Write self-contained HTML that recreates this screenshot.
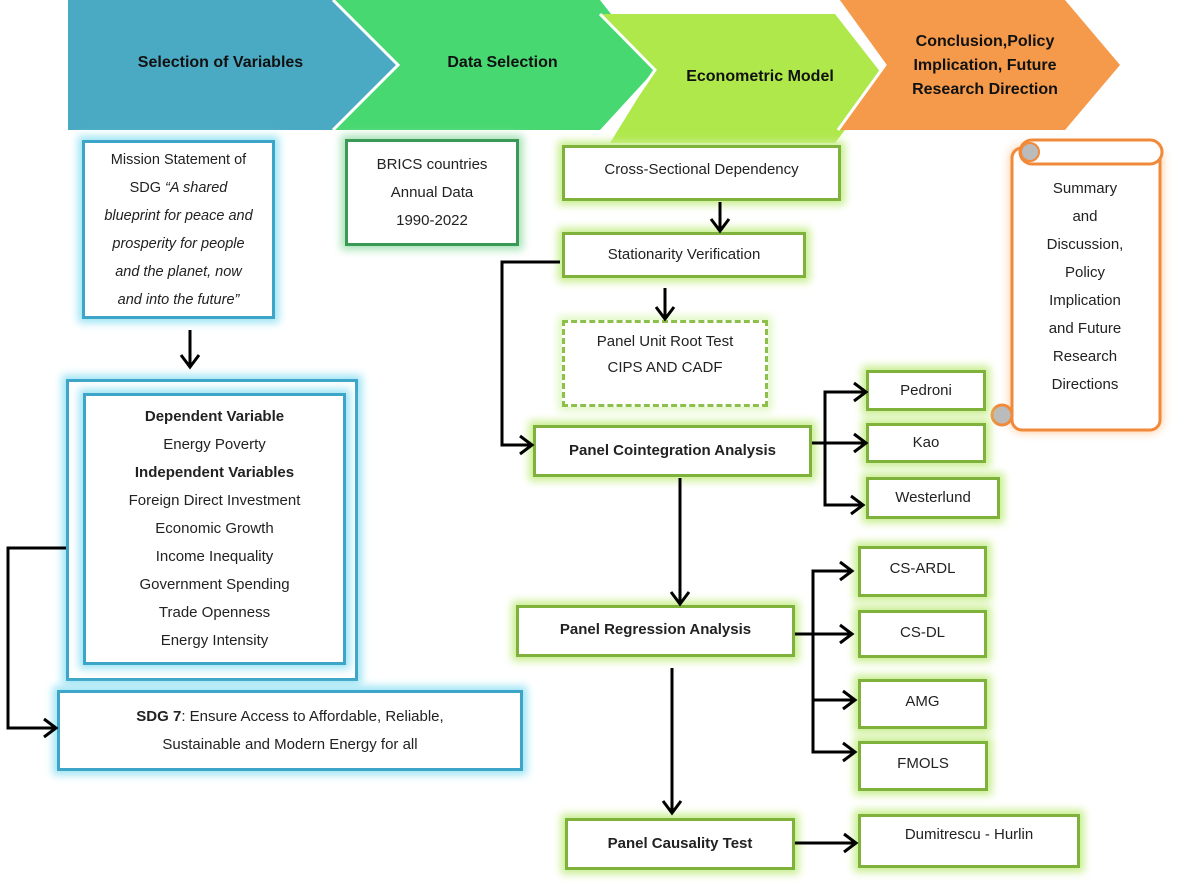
<!DOCTYPE html>
<html><head><meta charset="utf-8"><style>
body{margin:0;width:1200px;height:892px;background:#fff;position:relative;overflow:hidden;font-family:"Liberation Sans",sans-serif;color:#222}
.b{position:absolute;box-sizing:border-box;background:#fff;display:flex;align-items:center;justify-content:center;text-align:center;font-size:15px;line-height:28px}
.g{border:3px solid #7fb23a;box-shadow:0 0 8px 4px #c8ee8e}
.bl{border:3px solid #3da5c8;box-shadow:0 0 8px 4px #9ee4f5}
.dg{border:3px solid #3a9a55;box-shadow:0 0 8px 4px #a9e3b8}
.t{position:absolute;font-weight:bold;font-size:16px;text-align:center;color:#111}
svg{position:absolute;left:0;top:0}
</style></head><body>
<svg width="1200" height="892">
<polygon points="68,0 333,0 398,65 333,130 68,130" fill="#4aaac3"/>
<polygon points="335,0 600,0 655,70 600,130 335,130 398,65" fill="#48d872"/>
<polygon points="610,14 835,14 885,78 835,143 610,143 655,70 600,14" fill="#aee84a"/>
<polygon points="838,0 1065,0 1120,65 1065,130 838,130 885,65" fill="#f59a4a"/>
<polyline points="838,0 885,65 838,130" fill="none" stroke="#fff" stroke-width="3"/>
<polyline points="333,0 398,65 333,130" fill="none" stroke="#fff" stroke-width="3"/>
<polyline points="600,14 655,70 605,143" fill="none" stroke="#fff" stroke-width="3"/>
<g>
<rect x="1012" y="148" width="148" height="282" rx="10" fill="#fff" stroke="#f08a3a" stroke-width="3" style="filter:drop-shadow(0 0 5px #ffc48f)"/>
<rect x="1020" y="140" width="142" height="24" rx="12" fill="#fff" stroke="#f08a3a" stroke-width="3"/>
<circle cx="1030" cy="152" r="9" fill="#bbb" stroke="#f08a3a" stroke-width="2"/>
<circle cx="1002" cy="415" r="10" fill="#bbb" stroke="#f08a3a" stroke-width="3"/>
</g>
</svg>
<div class="t" style="left:68px;top:54px;width:305px">Selection of Variables</div>
<div class="t" style="left:400px;top:54px;width:205px">Data Selection</div>
<div class="t" style="left:650px;top:68px;width:220px">Econometric Model</div>
<div class="t" style="left:885px;top:30px;width:200px;line-height:24px">Conclusion,Policy Implication, Future Research Direction</div>

<div class="b bl" style="left:82px;top:140px;width:193px;height:179px;font-size:14.5px"><div>Mission Statement of<br>SDG <i>“A shared<br>blueprint for peace and<br>prosperity for people<br>and the planet, now<br>and into the future”</i></div></div>
<div class="b dg" style="left:345px;top:139px;width:174px;height:107px"><div>BRICS countries<br>Annual Data<br>1990-2022</div></div>
<div class="b bl" style="left:66px;top:379px;width:292px;height:302px"></div>
<div class="b bl" style="left:83px;top:393px;width:263px;height:272px;line-height:28px">
<div><b>Dependent Variable</b><br>Energy Poverty<br><b>Independent Variables</b><br>Foreign Direct Investment<br>Economic Growth<br>Income Inequality<br>Government Spending<br>Trade Openness<br>Energy Intensity</div></div>
<div class="b bl" style="left:57px;top:690px;width:466px;height:81px"><div><b>SDG 7</b>: Ensure Access to Affordable, Reliable,<br>Sustainable and Modern Energy for all</div></div>

<div class="b g" style="left:562px;top:145px;width:279px;height:56px;align-items:flex-start;padding-top:8px">Cross-Sectional Dependency</div>
<div class="b g" style="left:562px;top:232px;width:244px;height:46px">Stationarity Verification</div>
<div class="b" style="left:562px;top:320px;width:206px;height:87px;border:3px dashed #8cc04a;box-shadow:0 0 8px 4px #e0f7c3;line-height:26px;align-items:flex-start;padding-top:6px"><div>Panel Unit Root Test<br>CIPS AND CADF</div></div>
<div class="b g" style="left:533px;top:425px;width:279px;height:52px"><b>Panel Cointegration Analysis</b></div>
<div class="b g" style="left:516px;top:605px;width:279px;height:52px;align-items:flex-start;padding-top:8px"><b>Panel Regression Analysis</b></div>
<div class="b g" style="left:565px;top:818px;width:230px;height:52px"><b>Panel Causality Test</b></div>

<div class="b g" style="left:866px;top:370px;width:120px;height:41px">Pedroni</div>
<div class="b g" style="left:866px;top:423px;width:120px;height:40px">Kao</div>
<div class="b g" style="left:866px;top:477px;width:134px;height:42px">Westerlund</div>
<div class="b g" style="left:858px;top:546px;width:129px;height:51px;align-items:flex-start;padding-top:6px">CS-ARDL</div>
<div class="b g" style="left:858px;top:610px;width:129px;height:48px;align-items:flex-start;padding-top:6px">CS-DL</div>
<div class="b g" style="left:858px;top:679px;width:129px;height:50px;align-items:flex-start;padding-top:6px">AMG</div>
<div class="b g" style="left:858px;top:741px;width:130px;height:50px;align-items:flex-start;padding-top:6px">FMOLS</div>
<div class="b g" style="left:858px;top:814px;width:222px;height:54px;align-items:flex-start;padding-top:4px">Dumitrescu - Hurlin</div>

<div class="b" style="left:1020px;top:174px;width:130px;height:226px;background:transparent"><div>Summary<br>and<br>Discussion,<br>Policy<br>Implication<br>and Future<br>Research<br>Directions</div></div>

<svg width="1200" height="892">
<g stroke="#000" stroke-width="3" fill="none">
<line x1="190" y1="330" x2="190" y2="366"/><polyline points="181,355 190,367 199,355"/>
<line x1="720" y1="202" x2="720" y2="230"/><polyline points="711,219 720,231 729,219"/>
<line x1="665" y1="288" x2="665" y2="318"/><polyline points="656,307 665,319 674,307"/>
<polyline points="560,262 502,262 502,445 531,445"/><polyline points="520,436 532,445 520,454"/>
<polyline points="66,548 8,548 8,728 55,728"/><polyline points="44,719 56,728 44,737"/>
<line x1="812" y1="443" x2="865" y2="443"/>
<polyline points="865,392 825,392 825,505 862,505"/>
<polyline points="854,383 866,392 854,401"/><polyline points="854,434 866,443 854,452"/><polyline points="851,496 863,505 851,514"/>
<line x1="680" y1="478" x2="680" y2="603"/><polyline points="671,592 680,604 689,592"/>
<line x1="795" y1="634" x2="852" y2="634"/>
<polyline points="852,571 813,571 813,752 855,752"/><line x1="813" y1="700" x2="855" y2="700"/>
<polyline points="840,562 852,571 840,580"/><polyline points="840,625 852,634 840,643"/><polyline points="843,691 855,700 843,709"/><polyline points="843,743 855,752 843,761"/>
<line x1="672" y1="668" x2="672" y2="812"/><polyline points="663,801 672,813 681,801"/>
<line x1="795" y1="843" x2="856" y2="843"/><polyline points="844,834 856,843 844,852"/>
</g>
</svg>
</body></html>
